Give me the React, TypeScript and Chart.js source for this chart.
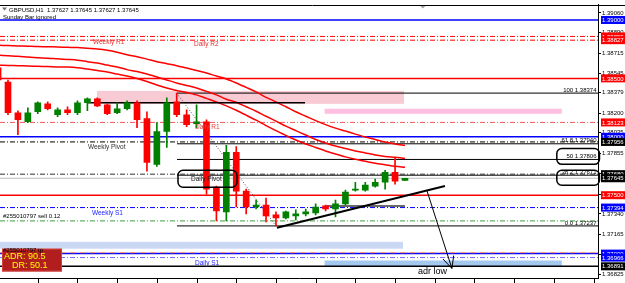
import React, { useEffect, useRef } from "react";
import { Chart, registerables } from "chart.js";

Chart.register(...registerables);

// ---------- DATA ----------
const barOpen = [1.3859, 1.38469, 1.38206, 1.38129, 1.38214, 1.38282, 1.38189, 1.38231, 1.38206, 1.38291, 1.38325, 1.38274, 1.38206, 1.3824, 1.38291, 1.38155, 1.37764, 1.38045, 1.38299, 1.38189, 1.38112, 1.38129, 1.37569, 1.37357, 1.37866, 1.37535, 1.37399, 1.37416, 1.37331, 1.37306, 1.37323, 1.3734, 1.37348, 1.37408, 1.37382, 1.37425, 1.37543, 1.37543, 1.37577, 1.37611, 1.37696, 1.37627];
const barHigh = [1.3864, 1.38486, 1.38223, 1.38248, 1.38299, 1.38299, 1.38248, 1.38257, 1.38308, 1.38333, 1.38333, 1.38282, 1.38291, 1.38308, 1.38308, 1.38214, 1.38121, 1.38333, 1.38374, 1.38231, 1.38274, 1.38146, 1.37577, 1.37926, 1.37917, 1.37552, 1.37459, 1.37476, 1.37357, 1.37365, 1.37374, 1.37382, 1.37425, 1.37416, 1.37459, 1.37543, 1.37611, 1.37611, 1.37637, 1.37713, 1.37824, 1.37645];
const barLow = [1.38469, 1.38189, 1.38019, 1.38121, 1.38197, 1.38231, 1.38172, 1.38189, 1.38189, 1.38223, 1.38257, 1.38189, 1.38197, 1.38231, 1.38078, 1.37705, 1.37747, 1.37909, 1.38172, 1.38087, 1.38078, 1.37509, 1.3728, 1.3728, 1.37399, 1.3734, 1.37382, 1.37272, 1.37237, 1.37297, 1.37289, 1.37323, 1.37331, 1.37365, 1.37314, 1.37416, 1.37535, 1.37535, 1.37569, 1.37552, 1.37594, 1.37627];
const barClose = [1.38486, 1.38206, 1.38146, 1.38206, 1.38291, 1.3824, 1.38231, 1.38206, 1.38291, 1.38325, 1.38265, 1.38197, 1.3824, 1.38291, 1.38146, 1.37781, 1.38045, 1.38291, 1.38189, 1.38104, 1.38129, 1.37552, 1.37365, 1.37866, 1.37535, 1.37399, 1.37416, 1.37323, 1.37306, 1.37357, 1.3734, 1.37357, 1.37399, 1.37382, 1.37425, 1.37526, 1.37552, 1.37586, 1.37611, 1.37696, 1.3762, 1.37645];

const maUpper = [1.38783, 1.38781, 1.38778, 1.38775, 1.38772, 1.38771, 1.38769, 1.38766, 1.38764, 1.38758, 1.38752, 1.38741, 1.38724, 1.38703, 1.38686, 1.38665, 1.38643, 1.38626, 1.38609, 1.38588, 1.38567, 1.38546, 1.3852, 1.38495, 1.38461, 1.38423, 1.38384, 1.38338, 1.38299, 1.38257, 1.38214, 1.38176, 1.38138, 1.38104, 1.38074, 1.38049, 1.38023, 1.37998, 1.37977, 1.37955, 1.37938, 1.37926];
const maMiddle = [1.38699, 1.38694, 1.3869, 1.38683, 1.38677, 1.38673, 1.38667, 1.38662, 1.38656, 1.38643, 1.38631, 1.38614, 1.38597, 1.38575, 1.38558, 1.38537, 1.38512, 1.38486, 1.38461, 1.38439, 1.38418, 1.38389, 1.38359, 1.38321, 1.38295, 1.38257, 1.38219, 1.38176, 1.38134, 1.38091, 1.38053, 1.38015, 1.37977, 1.37947, 1.37921, 1.379, 1.37879, 1.37862, 1.37845, 1.37832, 1.37824, 1.37815];
const maLower = [1.38614, 1.38611, 1.38609, 1.38606, 1.38603, 1.38601, 1.38598, 1.38597, 1.38592, 1.3858, 1.38567, 1.38554, 1.38537, 1.3852, 1.38499, 1.38473, 1.38444, 1.38418, 1.38397, 1.3838, 1.38359, 1.38329, 1.38299, 1.38265, 1.38227, 1.38185, 1.38142, 1.38096, 1.38053, 1.38011, 1.37972, 1.37938, 1.37909, 1.37879, 1.37853, 1.37828, 1.37807, 1.3779, 1.37773, 1.3776, 1.37747, 1.37739];

const yTickLabels = [1.3906, 1.3889, 1.38715, 1.38545, 1.38379, 1.382, 1.38035, 1.37855, 1.37685, 1.3751, 1.3734, 1.37165, 1.36995, 1.36825];

const levelPrices = [1.39, 1.38859, 1.38827, 1.385, 1.38123, 1.38, 1.37956, 1.3768, 1.37645, 1.375, 1.37394, 1.3728, 1.37008, 1.37, 1.36966, 1.36891];

const fibLevels = ["100", "61.8", "50", "38.2", "0.0"];
const fibPrices = [1.38374, 1.3794, 1.37806, 1.37671, 1.37237];

const axisBoxPrices = [1.39, 1.38859, 1.38827, 1.385, 1.38123, 1.38, 1.37956, 1.3768, 1.37645, 1.375, 1.37394, 1.37, 1.36966, 1.36891];

const trendX = [28.1, 45.03];
const trendY = [1.37221, 1.37578];
const arrowX = [43.22, 45.73];
const arrowY = [1.37537, 1.36873];
const fibLinkX = [18, 28];
const fibLinkY = [1.38374, 1.37237];
const resistX = [8.96, 30.93];
const resistY = 1.38291;
const orderX = [33.1, 41.0];
const orderY = 1.37408;

const zoneStart = [9.97, 32.9, 0.19, 32.9];
const zoneEnd = [40.9, 56.8, 40.8, 56.8];
const zoneTop = [1.38393, 1.3824, 1.37101, 1.36941];
const zoneBottom = [1.38282, 1.38197, 1.37042, 1.3689];

const boxStart = [18.13, 56.3, 56.3];
const boxEnd = [24.07, 60.6, 60.6];
const boxTop = [1.37713, 1.379, 1.37713];
const boxBottom = [1.37569, 1.37764, 1.37586];

const adrValue = "90.5";
const drValue = "50.1";

// ---------- STYLE / LAYOUT ----------
const XMIN = 0.194;
const XMAX = 60.45;
const YMIN = 1.367877;
const YMAX = 1.391316;
const DD = [5, 2, 1, 2];
const FONT = "'Liberation Sans', Arial, sans-serif";
const GREEN = "#008000";
const RED = "#ff0000";

const levelStyles: { c: string; w: number; d?: number[] }[] = [
  { c: "#0000ff", w: 1.5 },
  { c: "#ff0000", w: 1, d: DD },
  { c: "#ff0000", w: 1, d: DD },
  { c: "#ff0000", w: 1.5 },
  { c: "#f05a5a", w: 1, d: DD },
  { c: "#0000ff", w: 1.5 },
  { c: "#000000", w: 1, d: DD },
  { c: "#303030", w: 1, d: DD },
  { c: "#bcbcbc", w: 1 },
  { c: "#ff0000", w: 1.5 },
  { c: "#0000ff", w: 1, d: DD },
  { c: "#3ca03c", w: 1, d: DD },
  { c: "#ff8a6a", w: 1, d: DD },
  { c: "#0000ff", w: 1.5 },
  { c: "#6a6aff", w: 1, d: DD },
  { c: "#000000", w: 1.5 },
];
const axisBoxColors = ["#0000ff", "#ff0000", "#ff0000", "#ff0000", "#ff0000", "#0000ff", "#000000", "#000000", "#000000", "#ff0000", "#0000ff", "#0000ff", "#0000ff", "#000000"];
const zoneColors = ["#f8cad3", "#ffbfe0", "#cad8f3", "#a3c9f0"];

const px = (v: number) => v;

const mt4Plugin = {
  id: "mt4",
  beforeDatasetsDraw(chart: any) {
    const { ctx, chartArea: a, scales } = chart;
    const xs = scales.x, ys = scales.y;
    ctx.save();
    ctx.beginPath();
    ctx.rect(a.left, a.top, a.right - a.left, a.bottom - a.top);
    ctx.clip();
    for (let i = 0; i < zoneStart.length; i++) {
      const x0 = xs.getPixelForValue(zoneStart[i]);
      const x1 = xs.getPixelForValue(zoneEnd[i]);
      const y0 = ys.getPixelForValue(zoneTop[i]);
      const y1 = ys.getPixelForValue(zoneBottom[i]);
      ctx.fillStyle = zoneColors[i];
      ctx.fillRect(x0, y0, x1 - x0, y1 - y0);
    }
    ctx.restore();
  },
  afterDatasetsDraw(chart: any) {
    const { ctx, chartArea: a, scales } = chart;
    const xs = scales.x, ys = scales.y;
    const X = (k: number) => xs.getPixelForValue(k);
    const Y = (p: number) => ys.getPixelForValue(p);
    const text = (t: string, k: number, p: number, color: string, size: number, align: CanvasTextAlign = "left") => {
      ctx.font = `${size}px ${FONT}`;
      ctx.fillStyle = color;
      ctx.textAlign = align;
      ctx.textBaseline = "middle";
      ctx.fillText(t, X(k), Y(p));
    };
    ctx.save();

    // level labels
    text("Weekly R1", 9.56, 1.38813, "#e83030", 6.5);
    text("Daily R2", 19.74, 1.38796, "#e83030", 6.5);
    text("Daily R1", 19.84, 1.38083, "#e84040", 6.5);
    text("Weekly Pivot", 9.06, 1.37913, "#303030", 6.5);
    text("Daily Pivot", 19.44, 1.37637, "#202020", 6.5);
    text("Weekly S1", 9.46, 1.37348, "#2020ff", 6.5);
    text("#255010797 sell 0.12", 0.496, 1.37318, "#000000", 6);
    text("Daily S1", 19.84, 1.36915, "#2020ff", 6.5);

    // fib labels
    for (let i = 0; i < fibPrices.length; i++) {
      text(`${fibLevels[i]} ${fibPrices[i].toFixed(5)}`, 60.3, fibPrices[i] + 3 / 11775, "#000000", 6, "right");
    }

    // rounded boxes
    ctx.strokeStyle = "#000000";
    ctx.lineWidth = 1.5;
    for (let i = 0; i < boxStart.length; i++) {
      const x0 = X(boxStart[i]), x1 = X(boxEnd[i]);
      const y0 = Y(boxTop[i]), y1 = Y(boxBottom[i]);
      ctx.beginPath();
      (ctx as any).roundRect(x0, y0, x1 - x0, y1 - y0, 5);
      ctx.stroke();
    }

    // arrowhead
    const tx = X(arrowX[1]), ty = Y(arrowY[1]);
    const fx = X(arrowX[0]), fy = Y(arrowY[0]);
    const ang = Math.atan2(ty - fy, tx - fx);
    ctx.lineWidth = 1;
    ctx.beginPath();
    for (const s of [-1, 1]) {
      ctx.moveTo(tx, ty);
      ctx.lineTo(tx - 13 * Math.cos(ang + s * 0.45), ty - 13 * Math.sin(ang + s * 0.45));
    }
    ctx.stroke();

    // adr low
    text("adr low", 42.31, 1.36847, "#000000", 9);

    // ADR box
    const bx0 = X(0.395), bx1 = X(6.44), by0 = Y(1.37042), by1 = Y(1.36847);
    ctx.fillStyle = "#b21e1e";
    ctx.fillRect(bx0, by0, bx1 - bx0, by1 - by0);
    ctx.strokeStyle = "#d04040";
    ctx.lineWidth = 1;
    ctx.strokeRect(bx0 + 0.5, by0 + 0.5, bx1 - bx0 - 1, by1 - by0 - 1);
    text("#255010797 tp", 0.496, 1.37025, "#000000", 6);
    text(`ADR: ${adrValue}`, 0.596, 1.36979, "#ffff00", 9);
    text(`DR: ${drValue}`, 1.403, 1.36894, "#ffff00", 9);

    // header
    text("GBPUSD,H1  1.37627 1.37645 1.37627 1.37645", 1.1, 1.39085, "#000000", 6);
    text("Sunday Bar ignored", 0.496, 1.39021, "#000000", 6);
    ctx.fillStyle = "#707070";
    ctx.beginPath();
    ctx.moveTo(2, 7.5); ctx.lineTo(7, 7.5); ctx.lineTo(4.5, 10.5); ctx.closePath();
    ctx.fill();
    ctx.fillStyle = "#a0a0a0";
    const sx = X(42.8);
    ctx.beginPath();
    ctx.moveTo(sx - 3, a.top + 1); ctx.lineTo(sx + 3, a.top + 1); ctx.lineTo(sx, a.top + 4); ctx.closePath();
    ctx.fill();

    ctx.restore();
  },
  afterDraw(chart: any) {
    const { ctx, chartArea: a, scales, width, height } = chart;
    const ys = scales.y, xs = scales.x;
    ctx.save();
    // frame
    ctx.strokeStyle = "#000000";
    ctx.lineWidth = 1;
    ctx.beginPath();
    ctx.moveTo(0, Math.round(a.top) + 0.5);
    ctx.lineTo(width, Math.round(a.top) + 0.5);
    ctx.moveTo(0, Math.round(a.bottom) + 0.5);
    ctx.lineTo(Math.round(a.right) + 0.5, Math.round(a.bottom) + 0.5);
    ctx.stroke();
    // time ticks
    ctx.beginPath();
    for (let k = 4; k <= 60; k += 4) {
      const x = Math.round(xs.getPixelForValue(k)) + 0.5;
      ctx.moveTo(x, a.bottom);
      ctx.lineTo(x, height);
    }
    ctx.stroke();
    // axis price boxes
    ctx.font = `6px ${FONT}`;
    ctx.textAlign = "left";
    ctx.textBaseline = "middle";
    for (let i = 0; i < axisBoxPrices.length; i++) {
      const y = ys.getPixelForValue(axisBoxPrices[i]);
      ctx.fillStyle = axisBoxColors[i];
      ctx.fillRect(a.right + 3, y - 4, width - a.right - 3, 8);
      ctx.fillStyle = "#ffffff";
      ctx.fillText(axisBoxPrices[i].toFixed(5), a.right + 4, y + 0.5);
    }
    ctx.restore();
  },
};

export default function App() {
  const ref = useRef<HTMLCanvasElement>(null);
  useEffect(() => {
    document.body.style.margin = "0";
    const canvas = ref.current!;
    const idx = barOpen.map((_, i) => i);
    const isUp = (i: number) => barClose[i] >= barOpen[i];
    const hline = (p: number, st: { c: string; w: number; d?: number[] }, x0 = XMIN, x1 = XMAX) => ({
      type: "line",
      data: [{ x: x0, y: p }, { x: x1, y: p }],
      borderColor: st.c,
      borderWidth: st.w,
      borderDash: st.d || [],
      pointRadius: 0,
      order: 10,
      clip: 0,
    });
    const seg = (xsArr: number[], ysArr: number[], c: string, w: number, d: number[] = [], order = 4) => ({
      type: "line",
      data: xsArr.map((x, i) => ({ x, y: ysArr[i] })),
      borderColor: c,
      borderWidth: w,
      borderDash: d,
      pointRadius: 0,
      order,
      clip: 0,
    });
    const ma = (vals: number[]) => ({
      type: "line",
      data: vals.map((v, i) => ({ x: i, y: v })),
      borderColor: RED,
      borderWidth: 1.5,
      pointRadius: 0,
      tension: 0.3,
      order: 6,
      clip: 0,
    });

    const datasets: any[] = [
      {
        type: "bar",
        data: idx.map((i) => ({ x: i, y: [barOpen[i], barClose[i]] })),
        backgroundColor: (c: any) => (isUp(c.dataIndex) ? GREEN : RED),
        barThickness: 6,
        minBarLength: 1,
        grouped: false,
        borderWidth: 0,
        order: 1,
      },
      {
        type: "bar",
        data: idx.map((i) => ({ x: i, y: [barLow[i], barHigh[i]] })),
        backgroundColor: (c: any) => (isUp(c.dataIndex) ? GREEN : RED),
        barThickness: 1,
        grouped: false,
        borderWidth: 0,
        order: 2,
      },
      ma(maUpper),
      ma(maMiddle),
      ma(maLower),
      ...levelPrices.map((p, i) => hline(p, levelStyles[i])),
      ...fibPrices.map((p) => hline(p, { c: "#000000", w: 1 }, 18.03, XMAX)),
      seg(resistX, [resistY, resistY], "#000000", 1.5),
      seg(orderX, [orderY, orderY], "#6a6a6a", 2),
      seg(fibLinkX, fibLinkY, "#505050", 1, [1, 2], 3),
      seg(trendX, trendY, "#000000", 2, [], 0),
      seg(arrowX, arrowY, "#000000", 1, [], 0),
    ];

    const chart = new Chart(canvas, {
      type: "bar",
      data: { datasets },
      options: {
        responsive: false,
        animation: false,
        events: [],
        layout: { padding: { top: 4, bottom: 3, left: 0, right: 0 } },
        plugins: { legend: { display: false }, tooltip: { enabled: false } },
        scales: {
          x: { type: "linear", min: XMIN, max: XMAX, display: false, offset: false },
          y: {
            type: "linear",
            position: "right",
            min: YMIN,
            max: YMAX,
            afterBuildTicks: (s: any) => {
              s.ticks = yTickLabels.map((v) => ({ value: v }));
            },
            afterFit: (s: any) => {
              s.width = 27;
            },
            ticks: {
              autoSkip: false,
              padding: 1,
              color: "#000000",
              font: { size: 6, family: FONT },
              callback: (v: any) => Number(v).toFixed(5),
            },
            grid: { drawOnChartArea: false, drawTicks: true, tickLength: 3, color: "#000000" },
            border: { display: true, color: "#000000", width: 1 },
          },
        },
      } as any,
      plugins: [mt4Plugin],
    } as any);
    return () => chart.destroy();
  }, []);
  return (
    <div style={{ position: "absolute", left: 0, top: 0, width: 625, height: 283, background: "#fff" }}>
      <canvas ref={ref} width={625} height={283} style={{ display: "block" }} />
    </div>
  );
}
